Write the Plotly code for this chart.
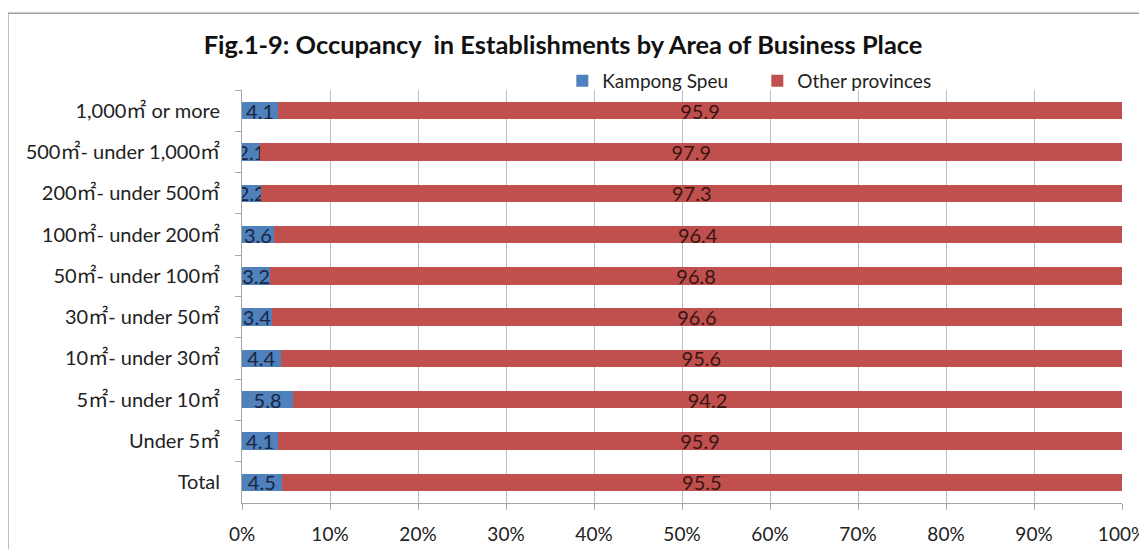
import plotly.graph_objects as go

categories = ["1,000㎡ or more", "500㎡- under 1,000㎡", "200㎡- under 500㎡",
              "100㎡- under 200㎡", "50㎡- under 100㎡", "30㎡- under 50㎡",
              "10㎡- under 30㎡", "5㎡- under 10㎡", "Under 5㎡", "Total"]
kampong_speu = [4.1, 2.1, 2.2, 3.6, 3.2, 3.4, 4.4, 5.8, 4.1, 4.5]
other_provinces = [95.9, 97.9, 97.3, 96.4, 96.8, 96.6, 95.6, 94.2, 95.9, 95.5]
x_ticks = [0, 10, 20, 30, 40, 50, 60, 70, 80, 90, 100]
x_tick_labels = ["0%", "10%", "20%", "30%", "40%", "50%", "60%", "70%", "80%", "90%", "100%"]

FONT = "Lato, 'Noto Sans CJK JP', sans-serif"
BLUE = "#4F81BD"
RED = "#C0504D"

fig = go.Figure()
fig.add_trace(go.Bar(
    y=categories, x=kampong_speu, orientation="h", name="Kampong Speu",
    marker=dict(color=BLUE, line=dict(width=0)),
    text=[f"{v:.1f}" for v in kampong_speu], textposition="inside",
    insidetextanchor="middle", textangle=0, constraintext="none",
    textfont=dict(family=FONT, size=20, color="#1b2540"),
))
fig.add_trace(go.Bar(
    y=categories, x=other_provinces, orientation="h", name="Other provinces",
    marker=dict(color=RED, line=dict(width=0)),
    text=[f"{v:.1f}" for v in other_provinces], textposition="inside",
    insidetextanchor="middle", textangle=0, constraintext="none",
    textfont=dict(family=FONT, size=20, color="#3a1414"),
))

fig.update_layout(
    barmode="stack", barnorm="percent", bargap=0.58,
    width=1147, height=549,
    margin=dict(l=234, r=33, t=82, b=54, autoexpand=False),
    paper_bgcolor="white", plot_bgcolor="white",
    font=dict(family=FONT, size=15, color="#222222"),
    title=dict(text="<b>Fig.1-9: Occupancy  in Establishments by Area of Business Place</b>",
               x=0.4839, xanchor="center", xref="container", y=0.9326, yanchor="middle",
               font=dict(family=FONT, size=25.4, color="#111111")),
    legend=dict(orientation="h", x=0.364, xanchor="left", y=1.022, yanchor="middle",
                font=dict(family=FONT, size=19, color="#222222"),
                itemwidth=30, entrywidth=150, traceorder="normal", bgcolor="rgba(0,0,0,0)"),
    showlegend=True,
)
fig.update_xaxes(
    range=[0, 100], tickmode="array", tickvals=x_ticks, ticktext=x_tick_labels,
    showgrid=True, gridcolor="#BDBDBD", gridwidth=1,
    showline=True, linecolor="#A6A6A6", linewidth=1,
    ticks="outside", ticklen=6, tickcolor="#A6A6A6",
    tickfont=dict(family=FONT, size=19, color="#222222"), zeroline=False,
    ticklabelstandoff=8, automargin=False,
)
fig.update_yaxes(
    categoryorder="array", categoryarray=categories, autorange="reversed",
    showline=True, linecolor="#A6A6A6", linewidth=1,
    ticks="outside", ticklen=6, tickcolor="#A6A6A6", tickson="boundaries",
    tickfont=dict(family=FONT, size=20, color="#222222"), ticklabelstandoff=17,
    automargin=False,
)
fig.add_shape(type="rect", xref="paper", yref="paper",
              x0=-0.266, x1=1.04, y0=-0.2, y1=1.186,
              line=dict(color="#A0A0A0", width=1.5), fillcolor="rgba(0,0,0,0)", layer="below")

fig.write_html("out.html")
